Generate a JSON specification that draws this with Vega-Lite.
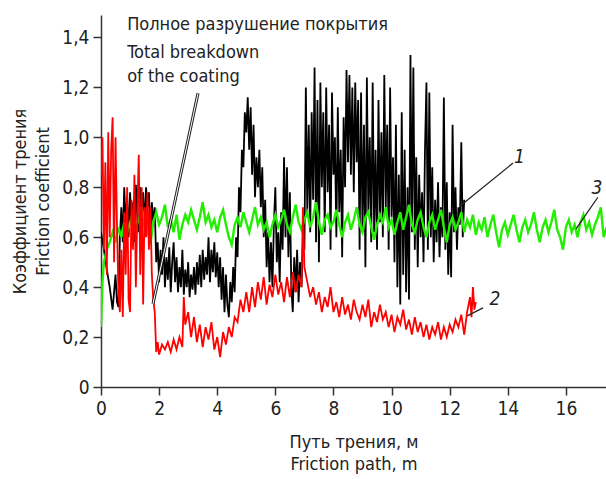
{
  "$schema": "https://vega.github.io/schema/vega-lite/v6.json",
  "width": 505,
  "height": 372,
  "autosize": {"type": "none"},
  "padding": {"left": 101, "top": 15, "right": 0, "bottom": 92},
  "background": "white",
  "config": {
    "view": {"stroke": null},
    "font": "DejaVu Sans Condensed",
    "axis": {"grid": false, "domainColor": "#333", "domainWidth": 1.5, "tickColor": "#333", "tickWidth": 1.5, "labelColor": "#222", "titleColor": "#222", "labelFont": "DejaVu Sans Condensed", "titleFont": "DejaVu Sans Condensed", "labelFontSize": 19, "titleFontSize": 18, "titleFontWeight": "normal"}
  },
  "datasets": {
    "black": [
      {"x":0.0,"y":0.62},{"x":0.1,"y":0.55},{"x":0.2,"y":0.47},{"x":0.3,"y":0.40},{"x":0.4,"y":0.31},
      {"x":0.5,"y":0.45},{"x":0.55,"y":0.34},{"x":0.6,"y":0.32},{"x":0.65,"y":0.60},{"x":0.7,"y":0.72},{"x":0.75,"y":0.58},{"x":0.8,"y":0.80},{"x":0.85,"y":0.65},{"x":0.9,"y":0.76},{"x":0.95,"y":0.60},
      {"x":1.0,"y":0.78},{"x":1.05,"y":0.66},{"x":1.1,"y":0.74},{"x":1.15,"y":0.58},{"x":1.2,"y":0.81},{"x":1.25,"y":0.68},{"x":1.3,"y":0.62},{"x":1.35,"y":0.80},{"x":1.4,"y":0.70},{"x":1.45,"y":0.78},
      {"x":1.5,"y":0.64},{"x":1.55,"y":0.80},{"x":1.6,"y":0.72},{"x":1.65,"y":0.78},{"x":1.7,"y":0.60},{"x":1.75,"y":0.74},{"x":1.8,"y":0.66},{"x":1.85,"y":0.72},{"x":1.9,"y":0.50},{"x":1.95,"y":0.58},
      {"x":2.0,"y":0.42},{"x":2.05,"y":0.55},{"x":2.1,"y":0.45},{"x":2.15,"y":0.60},{"x":2.2,"y":0.40},{"x":2.25,"y":0.52},{"x":2.3,"y":0.43},{"x":2.35,"y":0.56},{"x":2.4,"y":0.38},{"x":2.45,"y":0.50},
      {"x":2.5,"y":0.58},{"x":2.55,"y":0.42},{"x":2.6,"y":0.52},{"x":2.65,"y":0.38},{"x":2.7,"y":0.48},{"x":2.75,"y":0.40},{"x":2.8,"y":0.55},{"x":2.85,"y":0.37},{"x":2.9,"y":0.47},{"x":2.95,"y":0.40},
      {"x":3.0,"y":0.50},{"x":3.05,"y":0.36},{"x":3.1,"y":0.45},{"x":3.15,"y":0.39},{"x":3.2,"y":0.48},{"x":3.25,"y":0.37},{"x":3.3,"y":0.50},{"x":3.35,"y":0.41},{"x":3.4,"y":0.53},{"x":3.45,"y":0.40},
      {"x":3.5,"y":0.55},{"x":3.55,"y":0.43},{"x":3.6,"y":0.52},{"x":3.65,"y":0.45},{"x":3.7,"y":0.60},{"x":3.75,"y":0.42},{"x":3.8,"y":0.55},{"x":3.85,"y":0.46},{"x":3.9,"y":0.58},{"x":3.95,"y":0.44},
      {"x":4.0,"y":0.54},{"x":4.05,"y":0.40},{"x":4.1,"y":0.52},{"x":4.15,"y":0.35},{"x":4.2,"y":0.48},{"x":4.25,"y":0.30},{"x":4.3,"y":0.45},{"x":4.35,"y":0.33},{"x":4.4,"y":0.28},{"x":4.45,"y":0.42},
      {"x":4.5,"y":0.34},{"x":4.55,"y":0.48},{"x":4.6,"y":0.38},{"x":4.65,"y":0.60},{"x":4.7,"y":0.52},{"x":4.75,"y":0.80},{"x":4.8,"y":0.70},{"x":4.85,"y":0.95},{"x":4.9,"y":0.88},{"x":4.95,"y":1.10},
      {"x":5.0,"y":1.02},{"x":5.05,"y":1.16},{"x":5.1,"y":0.95},{"x":5.15,"y":1.12},{"x":5.2,"y":0.85},{"x":5.25,"y":1.05},{"x":5.3,"y":0.76},{"x":5.35,"y":0.92},{"x":5.4,"y":0.80},{"x":5.45,"y":0.95},
      {"x":5.5,"y":0.72},{"x":5.55,"y":0.88},{"x":5.6,"y":0.60},{"x":5.65,"y":0.75},{"x":5.7,"y":0.48},{"x":5.75,"y":0.62},{"x":5.8,"y":0.42},{"x":5.85,"y":0.58},{"x":5.9,"y":0.40},{"x":5.95,"y":0.65},
      {"x":6.0,"y":0.80},{"x":6.05,"y":0.50},{"x":6.1,"y":0.62},{"x":6.15,"y":0.42},{"x":6.2,"y":0.70},{"x":6.25,"y":0.55},{"x":6.3,"y":0.92},{"x":6.35,"y":0.60},{"x":6.4,"y":0.88},{"x":6.45,"y":0.52},
      {"x":6.5,"y":0.78},{"x":6.55,"y":0.40},{"x":6.6,"y":0.30},{"x":6.65,"y":0.52},{"x":6.7,"y":0.38},{"x":6.75,"y":0.55},{"x":6.8,"y":0.34},{"x":6.85,"y":0.50},{"x":6.9,"y":0.40},{"x":6.95,"y":0.58},
      {"x":7.0,"y":0.55},{"x":7.05,"y":1.20},{"x":7.1,"y":0.70},{"x":7.15,"y":1.05},{"x":7.2,"y":0.62},{"x":7.25,"y":1.10},{"x":7.3,"y":0.75},{"x":7.35,"y":1.28},{"x":7.4,"y":0.58},{"x":7.45,"y":1.15},
      {"x":7.5,"y":0.50},{"x":7.55,"y":1.22},{"x":7.6,"y":0.80},{"x":7.65,"y":1.10},{"x":7.7,"y":0.62},{"x":7.75,"y":1.20},{"x":7.8,"y":0.78},{"x":7.85,"y":1.05},{"x":7.9,"y":0.55},{"x":7.95,"y":1.18},
      {"x":8.0,"y":0.85},{"x":8.05,"y":1.00},{"x":8.1,"y":0.60},{"x":8.15,"y":1.12},{"x":8.2,"y":0.70},{"x":8.25,"y":0.95},{"x":8.3,"y":0.52},{"x":8.35,"y":1.08},{"x":8.4,"y":0.80},{"x":8.45,"y":1.27},
      {"x":8.5,"y":0.90},{"x":8.55,"y":1.25},{"x":8.6,"y":0.85},{"x":8.65,"y":1.20},{"x":8.7,"y":0.78},{"x":8.75,"y":1.22},{"x":8.8,"y":0.90},{"x":8.85,"y":1.15},{"x":8.9,"y":0.55},{"x":8.95,"y":1.18},
      {"x":9.0,"y":0.62},{"x":9.05,"y":1.05},{"x":9.1,"y":0.48},{"x":9.15,"y":1.24},{"x":9.2,"y":0.70},{"x":9.25,"y":1.00},{"x":9.3,"y":0.58},{"x":9.35,"y":1.22},{"x":9.4,"y":0.62},{"x":9.45,"y":0.95},
      {"x":9.5,"y":0.55},{"x":9.55,"y":1.15},{"x":9.6,"y":0.66},{"x":9.65,"y":1.02},{"x":9.7,"y":0.60},{"x":9.75,"y":1.25},{"x":9.8,"y":0.72},{"x":9.85,"y":1.05},{"x":9.9,"y":0.55},{"x":9.95,"y":1.20},
      {"x":10.0,"y":0.68},{"x":10.05,"y":0.92},{"x":10.1,"y":0.50},{"x":10.15,"y":1.05},{"x":10.2,"y":0.40},{"x":10.25,"y":0.85},{"x":10.3,"y":0.33},{"x":10.35,"y":1.10},{"x":10.4,"y":0.45},{"x":10.45,"y":0.95},
      {"x":10.5,"y":0.38},{"x":10.55,"y":0.80},{"x":10.6,"y":0.35},{"x":10.65,"y":1.33},{"x":10.7,"y":0.62},{"x":10.75,"y":1.28},{"x":10.8,"y":0.55},{"x":10.85,"y":0.92},{"x":10.9,"y":0.48},{"x":10.95,"y":0.85},
      {"x":11.0,"y":0.60},{"x":11.05,"y":0.78},{"x":11.1,"y":0.50},{"x":11.15,"y":0.95},{"x":11.2,"y":1.22},{"x":11.25,"y":0.55},{"x":11.3,"y":1.18},{"x":11.35,"y":0.60},{"x":11.4,"y":0.88},{"x":11.45,"y":0.50},
      {"x":11.5,"y":0.75},{"x":11.55,"y":0.58},{"x":11.6,"y":0.82},{"x":11.65,"y":0.52},{"x":11.7,"y":0.72},{"x":11.75,"y":0.60},{"x":11.8,"y":1.16},{"x":11.85,"y":0.55},{"x":11.9,"y":0.82},{"x":11.95,"y":0.45},
      {"x":12.0,"y":0.70},{"x":12.05,"y":0.44},{"x":12.1,"y":1.05},{"x":12.15,"y":0.62},{"x":12.2,"y":0.80},{"x":12.25,"y":0.55},{"x":12.3,"y":0.72},{"x":12.35,"y":0.65},{"x":12.4,"y":0.98},{"x":12.45,"y":0.60},{"x":12.5,"y":0.75}
    ],
    "green": [
      {"x":0.0,"y":0.24},{"x":0.05,"y":0.42},{"x":0.1,"y":0.50},{"x":0.2,"y":0.55},{"x":0.3,"y":0.58},{"x":0.4,"y":0.62},{"x":0.5,"y":0.58},{"x":0.6,"y":0.64},{"x":0.7,"y":0.60},{"x":0.8,"y":0.66},{"x":0.9,"y":0.62},
      {"x":1.0,"y":0.66},{"x":1.1,"y":0.69},{"x":1.2,"y":0.64},{"x":1.3,"y":0.67},{"x":1.4,"y":0.72},{"x":1.5,"y":0.66},{"x":1.6,"y":0.63},{"x":1.7,"y":0.57},{"x":1.8,"y":0.66},{"x":1.9,"y":0.70},
      {"x":2.0,"y":0.65},{"x":2.1,"y":0.68},{"x":2.2,"y":0.73},{"x":2.3,"y":0.64},{"x":2.4,"y":0.67},{"x":2.5,"y":0.62},{"x":2.6,"y":0.69},{"x":2.7,"y":0.59},{"x":2.8,"y":0.65},{"x":2.9,"y":0.69},
      {"x":3.0,"y":0.66},{"x":3.1,"y":0.71},{"x":3.2,"y":0.67},{"x":3.3,"y":0.63},{"x":3.4,"y":0.68},{"x":3.5,"y":0.74},{"x":3.6,"y":0.66},{"x":3.7,"y":0.69},{"x":3.8,"y":0.64},{"x":3.9,"y":0.67},
      {"x":4.0,"y":0.62},{"x":4.1,"y":0.68},{"x":4.2,"y":0.71},{"x":4.3,"y":0.65},{"x":4.4,"y":0.60},{"x":4.5,"y":0.57},{"x":4.6,"y":0.65},{"x":4.7,"y":0.68},{"x":4.8,"y":0.64},{"x":4.9,"y":0.70},
      {"x":5.0,"y":0.66},{"x":5.1,"y":0.62},{"x":5.2,"y":0.67},{"x":5.3,"y":0.72},{"x":5.4,"y":0.65},{"x":5.5,"y":0.68},{"x":5.6,"y":0.63},{"x":5.7,"y":0.66},{"x":5.8,"y":0.60},{"x":5.9,"y":0.65},
      {"x":6.0,"y":0.69},{"x":6.1,"y":0.64},{"x":6.2,"y":0.67},{"x":6.3,"y":0.71},{"x":6.4,"y":0.65},{"x":6.5,"y":0.62},{"x":6.6,"y":0.68},{"x":6.7,"y":0.73},{"x":6.8,"y":0.66},{"x":6.9,"y":0.63},
      {"x":7.0,"y":0.67},{"x":7.1,"y":0.70},{"x":7.2,"y":0.64},{"x":7.3,"y":0.68},{"x":7.4,"y":0.74},{"x":7.5,"y":0.66},{"x":7.6,"y":0.61},{"x":7.7,"y":0.67},{"x":7.8,"y":0.69},{"x":7.9,"y":0.64},
      {"x":8.0,"y":0.66},{"x":8.1,"y":0.71},{"x":8.2,"y":0.65},{"x":8.3,"y":0.60},{"x":8.4,"y":0.66},{"x":8.5,"y":0.69},{"x":8.6,"y":0.63},{"x":8.7,"y":0.67},{"x":8.8,"y":0.72},{"x":8.9,"y":0.65},
      {"x":9.0,"y":0.62},{"x":9.1,"y":0.68},{"x":9.2,"y":0.70},{"x":9.3,"y":0.64},{"x":9.4,"y":0.59},{"x":9.5,"y":0.65},{"x":9.6,"y":0.69},{"x":9.7,"y":0.66},{"x":9.8,"y":0.72},{"x":9.9,"y":0.64},
      {"x":10.0,"y":0.67},{"x":10.1,"y":0.61},{"x":10.2,"y":0.66},{"x":10.3,"y":0.70},{"x":10.4,"y":0.63},{"x":10.5,"y":0.68},{"x":10.6,"y":0.73},{"x":10.7,"y":0.65},{"x":10.8,"y":0.62},{"x":10.9,"y":0.67},
      {"x":11.0,"y":0.70},{"x":11.1,"y":0.64},{"x":11.2,"y":0.60},{"x":11.3,"y":0.66},{"x":11.4,"y":0.69},{"x":11.5,"y":0.63},{"x":11.6,"y":0.67},{"x":11.7,"y":0.71},{"x":11.8,"y":0.64},{"x":11.9,"y":0.58},
      {"x":12.0,"y":0.65},{"x":12.1,"y":0.68},{"x":12.2,"y":0.63},{"x":12.3,"y":0.66},{"x":12.4,"y":0.70},{"x":12.5,"y":0.62},{"x":12.6,"y":0.67},{"x":12.7,"y":0.64},{"x":12.8,"y":0.69},{"x":12.9,"y":0.61},
      {"x":13.0,"y":0.66},{"x":13.1,"y":0.63},{"x":13.2,"y":0.68},{"x":13.3,"y":0.60},{"x":13.4,"y":0.65},{"x":13.5,"y":0.69},{"x":13.6,"y":0.62},{"x":13.7,"y":0.56},{"x":13.8,"y":0.63},{"x":13.9,"y":0.66},
      {"x":14.0,"y":0.61},{"x":14.1,"y":0.65},{"x":14.2,"y":0.69},{"x":14.3,"y":0.63},{"x":14.4,"y":0.58},{"x":14.5,"y":0.64},{"x":14.6,"y":0.67},{"x":14.7,"y":0.62},{"x":14.8,"y":0.65},{"x":14.9,"y":0.70},
      {"x":15.0,"y":0.63},{"x":15.1,"y":0.58},{"x":15.2,"y":0.64},{"x":15.3,"y":0.67},{"x":15.4,"y":0.62},{"x":15.5,"y":0.66},{"x":15.6,"y":0.71},{"x":15.7,"y":0.63},{"x":15.8,"y":0.60},{"x":15.9,"y":0.55},
      {"x":16.0,"y":0.64},{"x":16.1,"y":0.67},{"x":16.2,"y":0.62},{"x":16.3,"y":0.65},{"x":16.4,"y":0.60},{"x":16.5,"y":0.66},{"x":16.6,"y":0.69},{"x":16.7,"y":0.63},{"x":16.8,"y":0.66},{"x":16.9,"y":0.61},
      {"x":17.0,"y":0.65},{"x":17.1,"y":0.68},{"x":17.2,"y":0.72},{"x":17.3,"y":0.60},{"x":17.4,"y":0.64}
    ],
    "red": [
      {"x":0.0,"y":0.85},{"x":0.05,"y":1.00},{"x":0.1,"y":0.55},{"x":0.15,"y":0.90},{"x":0.2,"y":0.45},{"x":0.25,"y":1.02},{"x":0.3,"y":0.60},{"x":0.35,"y":0.95},{"x":0.4,"y":1.08},{"x":0.45,"y":0.50},
      {"x":0.5,"y":1.00},{"x":0.55,"y":0.65},{"x":0.6,"y":0.38},{"x":0.65,"y":0.30},{"x":0.7,"y":0.55},{"x":0.75,"y":0.28},{"x":0.8,"y":0.70},{"x":0.85,"y":0.45},{"x":0.9,"y":0.80},{"x":0.95,"y":0.35},
      {"x":1.0,"y":0.30},{"x":1.05,"y":0.75},{"x":1.1,"y":0.55},{"x":1.15,"y":0.85},{"x":1.2,"y":0.40},{"x":1.25,"y":0.70},{"x":1.3,"y":0.93},{"x":1.35,"y":0.45},{"x":1.4,"y":0.80},{"x":1.45,"y":0.33},
      {"x":1.5,"y":0.72},{"x":1.55,"y":0.60},{"x":1.6,"y":0.78},{"x":1.65,"y":0.55},{"x":1.7,"y":0.72},{"x":1.75,"y":0.45},{"x":1.8,"y":0.35},{"x":1.85,"y":0.30},{"x":1.9,"y":0.14},{"x":1.95,"y":0.18},
      {"x":2.0,"y":0.13},{"x":2.1,"y":0.17},{"x":2.2,"y":0.15},{"x":2.3,"y":0.18},{"x":2.4,"y":0.14},{"x":2.5,"y":0.19},{"x":2.6,"y":0.15},{"x":2.7,"y":0.20},{"x":2.8,"y":0.16},{"x":2.85,"y":0.36},{"x":2.9,"y":0.25},
      {"x":3.0,"y":0.30},{"x":3.1,"y":0.20},{"x":3.2,"y":0.28},{"x":3.3,"y":0.18},{"x":3.4,"y":0.25},{"x":3.5,"y":0.16},{"x":3.6,"y":0.24},{"x":3.7,"y":0.19},{"x":3.8,"y":0.26},{"x":3.9,"y":0.15},
      {"x":4.0,"y":0.20},{"x":4.1,"y":0.12},{"x":4.2,"y":0.22},{"x":4.3,"y":0.17},{"x":4.4,"y":0.24},{"x":4.5,"y":0.20},{"x":4.6,"y":0.28},{"x":4.7,"y":0.26},{"x":4.8,"y":0.35},{"x":4.9,"y":0.30},
      {"x":5.0,"y":0.38},{"x":5.1,"y":0.30},{"x":5.2,"y":0.40},{"x":5.3,"y":0.32},{"x":5.4,"y":0.42},{"x":5.5,"y":0.35},{"x":5.6,"y":0.44},{"x":5.7,"y":0.33},{"x":5.8,"y":0.41},{"x":5.9,"y":0.36},
      {"x":6.0,"y":0.45},{"x":6.1,"y":0.37},{"x":6.2,"y":0.42},{"x":6.3,"y":0.34},{"x":6.4,"y":0.44},{"x":6.5,"y":0.36},{"x":6.6,"y":0.46},{"x":6.7,"y":0.38},{"x":6.8,"y":0.45},{"x":6.9,"y":0.40},{"x":6.95,"y":0.72},
      {"x":7.0,"y":0.48},{"x":7.1,"y":0.42},{"x":7.2,"y":0.36},{"x":7.3,"y":0.40},{"x":7.4,"y":0.33},{"x":7.5,"y":0.38},{"x":7.6,"y":0.30},{"x":7.7,"y":0.36},{"x":7.8,"y":0.32},{"x":7.9,"y":0.40},
      {"x":8.0,"y":0.30},{"x":8.1,"y":0.34},{"x":8.2,"y":0.28},{"x":8.3,"y":0.36},{"x":8.4,"y":0.29},{"x":8.5,"y":0.33},{"x":8.6,"y":0.27},{"x":8.7,"y":0.35},{"x":8.8,"y":0.30},{"x":8.9,"y":0.27},
      {"x":9.0,"y":0.33},{"x":9.1,"y":0.28},{"x":9.2,"y":0.35},{"x":9.3,"y":0.24},{"x":9.4,"y":0.30},{"x":9.5,"y":0.26},{"x":9.6,"y":0.33},{"x":9.7,"y":0.27},{"x":9.8,"y":0.30},{"x":9.9,"y":0.24},
      {"x":10.0,"y":0.29},{"x":10.1,"y":0.22},{"x":10.2,"y":0.28},{"x":10.3,"y":0.25},{"x":10.4,"y":0.31},{"x":10.5,"y":0.23},{"x":10.6,"y":0.27},{"x":10.7,"y":0.21},{"x":10.8,"y":0.28},{"x":10.9,"y":0.22},
      {"x":11.0,"y":0.26},{"x":11.1,"y":0.20},{"x":11.2,"y":0.25},{"x":11.3,"y":0.19},{"x":11.4,"y":0.24},{"x":11.5,"y":0.21},{"x":11.6,"y":0.26},{"x":11.7,"y":0.19},{"x":11.8,"y":0.24},{"x":11.9,"y":0.20},
      {"x":12.0,"y":0.25},{"x":12.1,"y":0.22},{"x":12.2,"y":0.27},{"x":12.3,"y":0.24},{"x":12.4,"y":0.29},{"x":12.5,"y":0.21},{"x":12.6,"y":0.30},{"x":12.7,"y":0.36},{"x":12.75,"y":0.28},{"x":12.8,"y":0.40},{"x":12.85,"y":0.31},{"x":12.9,"y":0.34}
    ],
    "notes": [
      {"x":0.9,"y":1.449,"t":"Полное разрушение покрытия"},
      {"x":0.9,"y":1.337,"t":"Total breakdown"},
      {"x":0.9,"y":1.241,"t":"of the coating"}
    ],
    "labels": [
      {"x":14.4,"y":0.92,"t":"1"},
      {"x":13.56,"y":0.354,"t":"2"},
      {"x":17.07,"y":0.797,"t":"3"}
    ],
    "leaders": [
      {"x":12.36,"y":0.725,"x2":14.18,"y2":0.897},
      {"x":12.6,"y":0.285,"x2":13.15,"y2":0.317},
      {"x":16.35,"y":0.633,"x2":17.1,"y2":0.76}
    ],
    "breakdown": [
      {"x":1.79,"y":0.333,"x2":3.34,"y2":1.177}
    ]
  },
  "layer": [
    {
      "data": {"name": "black"},
      "mark": {"type": "line", "color": "#000000", "strokeWidth": 1.8, "clip": true},
      "encoding": {
        "x": {"field": "x", "type": "quantitative", "scale": {"domain": [0, 17.38], "nice": false},
          "axis": {"values": [0,1,2,3,4,5,6,7,8,9,10,11,12,13,14,15,16,17], "labelExpr": "datum.value % 2 == 1 ? '' : datum.label", "tickSize": {"condition": {"test": "datum.value % 2 == 1", "value": 4}, "value": 8}, "labelPadding": 4, "labelFlush": false, "title": ["Путь трения, м", "Friction path, m"], "titleY": 46, "titleBaseline": "top", "titleLineHeight": 22}},
        "y": {"field": "y", "type": "quantitative", "scale": {"domain": [0, 1.49], "nice": false},
          "axis": {"values": [0,0.1,0.2,0.3,0.4,0.5,0.6,0.7,0.8,0.9,1.0,1.1,1.2,1.3,1.4], "labelExpr": "round(datum.value*10) % 2 == 1 ? '' : (datum.value == 0 ? '0' : replace(format(datum.value, '.1f'), '.', ','))", "tickSize": {"condition": {"test": "round(datum.value*10) % 2 == 1", "value": 4}, "value": 8}, "labelPadding": 4, "labelFlush": false, "title": ["Коэффициент трения", "Friction coefficient"], "titleX": -90, "titleBaseline": "top", "titleLineHeight": 23}}
      }
    },
    {
      "data": {"name": "green"},
      "mark": {"type": "line", "color": "#22ee00", "strokeWidth": 2.4, "clip": true},
      "encoding": {"x": {"field": "x", "type": "quantitative"}, "y": {"field": "y", "type": "quantitative"}}
    },
    {
      "data": {"name": "red"},
      "mark": {"type": "line", "color": "#ff0000", "strokeWidth": 1.8, "clip": true},
      "encoding": {"x": {"field": "x", "type": "quantitative"}, "y": {"field": "y", "type": "quantitative"}}
    },
    {
      "data": {"name": "breakdown"},
      "mark": {"type": "rule", "color": "#222", "strokeWidth": 3},
      "encoding": {"x": {"field": "x", "type": "quantitative"}, "y": {"field": "y", "type": "quantitative"}, "x2": {"field": "x2"}, "y2": {"field": "y2"}}
    },
    {
      "data": {"name": "breakdown"},
      "mark": {"type": "rule", "color": "#ffffff", "strokeWidth": 1},
      "encoding": {"x": {"field": "x", "type": "quantitative"}, "y": {"field": "y", "type": "quantitative"}, "x2": {"field": "x2"}, "y2": {"field": "y2"}}
    },
    {
      "data": {"name": "leaders"},
      "mark": {"type": "rule", "color": "#222", "strokeWidth": 1.3},
      "encoding": {"x": {"field": "x", "type": "quantitative"}, "y": {"field": "y", "type": "quantitative"}, "x2": {"field": "x2"}, "y2": {"field": "y2"}}
    },
    {
      "data": {"name": "notes"},
      "mark": {"type": "text", "align": "left", "baseline": "middle", "fontSize": 18, "color": "#222", "font": "DejaVu Sans Condensed"},
      "encoding": {"x": {"field": "x", "type": "quantitative"}, "y": {"field": "y", "type": "quantitative"}, "text": {"field": "t"}}
    },
    {
      "data": {"name": "labels"},
      "mark": {"type": "text", "align": "center", "baseline": "middle", "fontSize": 19, "fontStyle": "italic", "color": "#222", "font": "DejaVu Sans Condensed"},
      "encoding": {"x": {"field": "x", "type": "quantitative"}, "y": {"field": "y", "type": "quantitative"}, "text": {"field": "t"}}
    }
  ]
}
